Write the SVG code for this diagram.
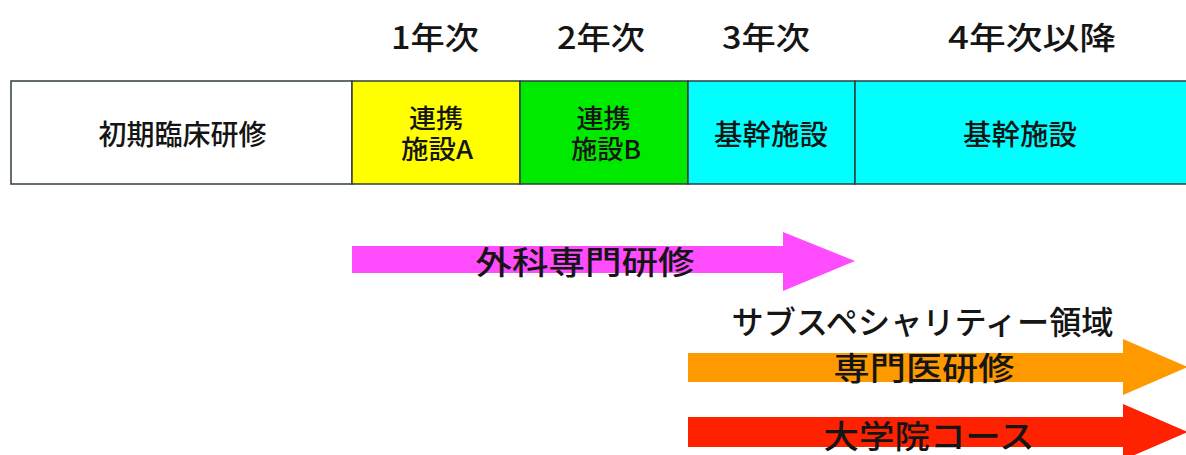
<svg xmlns="http://www.w3.org/2000/svg" width="1186" height="455" viewBox="0 0 1186 455">
<style>
.t{font-family:"Noto Sans CJK JP","Liberation Sans",sans-serif;fill:#151515;text-anchor:middle;font-weight:500}
.yr{font-size:31px}
.bx{font-size:28px}
.bs{font-size:26px}
.ar{font-size:32px}
.cell{stroke:#2f3f3f;stroke-width:1.5}
</style>
<rect width="1186" height="455" fill="#fff"/>
<g id="years">
<text class="t yr" x="435" y="49" textLength="88" lengthAdjust="spacingAndGlyphs">1年次</text>
<text class="t yr" x="601" y="49" textLength="88" lengthAdjust="spacingAndGlyphs">2年次</text>
<text class="t yr" x="766" y="49" textLength="88" lengthAdjust="spacingAndGlyphs">3年次</text>
<text class="t yr" x="1032" y="49" textLength="168" lengthAdjust="spacingAndGlyphs">4年次以降</text>
</g>
<g id="initial">
<rect class="cell" x="11" y="81" width="341" height="103" fill="#fff"/>
<text class="t bx" x="182.5" y="145" textLength="168" lengthAdjust="spacingAndGlyphs">初期臨床研修</text>
</g>
<g id="facilityA">
<rect class="cell" x="352" y="81" width="168" height="103" fill="#ffff00"/>
<text class="t bs" x="436" y="128" textLength="54" lengthAdjust="spacingAndGlyphs">連携</text>
<text class="t bs" x="437" y="159" textLength="72" lengthAdjust="spacingAndGlyphs">施設A</text>
</g>
<g id="facilityB">
<rect class="cell" x="520" y="81" width="168" height="103" fill="#00ea00"/>
<text class="t bs" x="603.5" y="128" textLength="54" lengthAdjust="spacingAndGlyphs">連携</text>
<text class="t bs" x="606" y="159" textLength="70" lengthAdjust="spacingAndGlyphs">施設B</text>
</g>
<g id="core3">
<rect class="cell" x="688" y="81" width="167" height="103" fill="#00ffff"/>
<text class="t bx" x="771" y="145" textLength="114" lengthAdjust="spacingAndGlyphs">基幹施設</text>
</g>
<g id="core4">
<rect class="cell" x="855" y="81" width="340" height="103" fill="#00ffff"/>
<text class="t bx" x="1020" y="145" textLength="114" lengthAdjust="spacingAndGlyphs">基幹施設</text>
</g>
<g id="connectors">
<polygon points="352,246 783,246 783,232 855,261 783,291 783,273 352,273" fill="#ff4cff"/>
<polygon points="688,353 1123,353 1123,339 1188,367 1123,395 1123,382 688,382" fill="#ff9900"/>
<polygon points="688,417 1123,417 1123,404 1188,432 1123,460 1123,447 688,447" fill="#ff2200"/>
</g>
<g id="labels">
<text class="t ar" x="585" y="274" textLength="219" lengthAdjust="spacingAndGlyphs">外科専門研修</text>
<text class="t ar" x="922.5" y="334" textLength="382" lengthAdjust="spacingAndGlyphs">サブスペシャリティー領域</text>
<text class="t ar" x="924" y="380" textLength="181" lengthAdjust="spacingAndGlyphs">専門医研修</text>
<text class="t ar" x="929" y="448" textLength="211" lengthAdjust="spacingAndGlyphs">大学院コース</text>
</g>
</svg>
